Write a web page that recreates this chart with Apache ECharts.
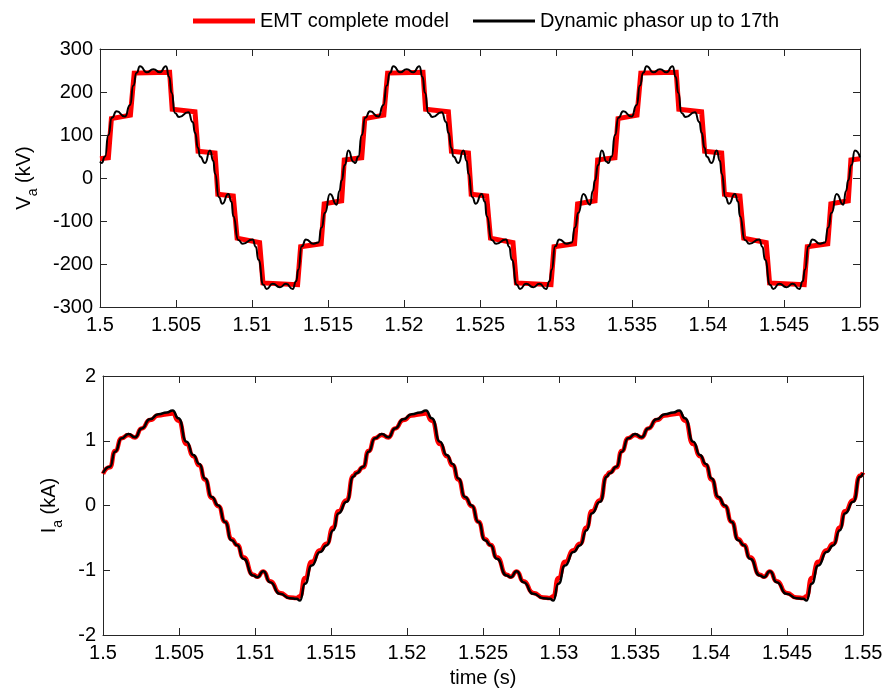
<!DOCTYPE html>
<html><head><meta charset="utf-8">
<script src="https://cdn.jsdelivr.net/npm/echarts@6/dist/echarts.min.js"></script>
<style>html,body{margin:0;padding:0;background:#fff}#c{width:885px;height:690px}</style>
</head><body><div id="c"></div>
<script>
// ---------- DATA ----------
const seriesNames = ['EMT complete model', 'Dynamic phasor up to 17th'];
const xTickLabels = ['1.5','1.505','1.51','1.515','1.52','1.525','1.53','1.535','1.54','1.545','1.55'];

// Top panel: V_a (kV), EMT complete model (stepped)
const vRedT = [
 1.50000,1.50055,1.50075,1.50200,1.50225,1.50458,1.50475,1.50625,1.50645,1.50757,1.50775,1.50877,1.50902,1.51050,1.51072,1.51300,1.51320,1.51455,1.51475,1.51590,1.51607,
 1.51667,1.51722,1.51742,1.51867,1.51892,1.52125,1.52142,1.52292,1.52312,1.52424,1.52442,1.52544,1.52569,1.52717,1.52739,1.52967,1.52987,1.53122,1.53142,1.53257,1.53274,
 1.53333,1.53388,1.53408,1.53533,1.53558,1.53791,1.53808,1.53958,1.53978,1.54090,1.54108,1.54210,1.54235,1.54383,1.54405,1.54633,1.54653,1.54788,1.54808,1.54923,1.54940,
 1.55000];
const vRedV = [
 45,47,138,146,244,246,160,154,62,58,-38,-42,-140,-150,-244,-248,-160,-153,-60,-53,42,
 45,47,138,146,244,246,160,154,62,58,-38,-42,-140,-150,-244,-248,-160,-153,-60,-53,42,
 45,47,138,146,244,246,160,154,62,58,-38,-42,-140,-150,-244,-248,-160,-153,-60,-53,42,
 45];

// Top panel: V_a (kV), dynamic phasor up to 17th
const vBlkT = [
 1.50000,1.50011,1.50033,1.50055,1.50078,1.50109,1.50164,1.50198,1.50219,1.50241,1.50263,1.50307,1.50351,1.50395,1.50434,1.50455,1.50471,1.50493,1.50520,1.50581,
 1.50610,1.50625,1.50645,1.50658,1.50691,1.50724,1.50745,1.50757,1.50782,1.50805,1.50844,1.50865,1.50877,1.50910,1.50939,1.51004,1.51025,1.51042,1.51075,1.51096,
 1.51136,1.51184,1.51224,1.51268,1.51290,1.51305,1.51327,1.51355,1.51404,1.51436,1.51458,1.51480,1.51513,1.51557,1.51575,1.51590,1.51610,1.51634,
 1.51667,1.51678,1.51700,1.51722,1.51745,1.51776,1.51831,1.51865,1.51886,1.51908,1.51930,1.51974,1.52018,1.52062,1.52101,1.52122,1.52138,1.52160,1.52187,1.52248,
 1.52277,1.52292,1.52312,1.52325,1.52358,1.52391,1.52412,1.52424,1.52449,1.52472,1.52511,1.52532,1.52544,1.52577,1.52606,1.52671,1.52692,1.52709,1.52742,1.52763,
 1.52803,1.52851,1.52891,1.52935,1.52957,1.52972,1.52994,1.53022,1.53071,1.53103,1.53125,1.53147,1.53180,1.53224,1.53242,1.53257,1.53277,1.53301,
 1.53333,1.53344,1.53366,1.53388,1.53411,1.53442,1.53497,1.53531,1.53552,1.53574,1.53596,1.53640,1.53684,1.53728,1.53767,1.53788,1.53804,1.53826,1.53853,1.53914,
 1.53943,1.53958,1.53978,1.53991,1.54024,1.54057,1.54078,1.54090,1.54115,1.54138,1.54177,1.54198,1.54210,1.54243,1.54272,1.54337,1.54358,1.54375,1.54408,1.54429,
 1.54469,1.54517,1.54557,1.54601,1.54623,1.54638,1.54660,1.54688,1.54737,1.54769,1.54791,1.54813,1.54846,1.54890,1.54908,1.54923,1.54943,1.54967,
 1.55000];
const vBlkV = [
 38,35,50,100,140,155,143,170,215,245,260,246,253,246,260,235,198,151,142,153,
 130,105,70,50,35,64,40,10,-45,-60,-37,-55,-89,-144,-153,-143,-160,-190,-248,-258,
 -246,-254,-246,-258,-240,-213,-159,-143,-153,-150,-115,-81,-37,-62,-30,-5,30,64,
 38,35,50,100,140,155,143,170,215,245,260,246,253,246,260,235,198,151,142,153,
 130,105,70,50,35,64,40,10,-45,-60,-37,-55,-89,-144,-153,-143,-160,-190,-248,-258,
 -246,-254,-246,-258,-240,-213,-159,-143,-153,-150,-115,-81,-37,-62,-30,-5,30,64,
 38,35,50,100,140,155,143,170,215,245,260,246,253,246,260,235,198,151,142,153,
 130,105,70,50,35,64,40,10,-45,-60,-37,-55,-89,-144,-153,-143,-160,-190,-248,-258,
 -246,-254,-246,-258,-240,-213,-159,-143,-153,-150,-115,-81,-37,-62,-30,-5,30,64,
 48];

// Bottom panel: I_a (kA)
const iT = [
 1.50000,1.50046,1.50079,1.50123,1.50167,1.50211,1.50254,1.50309,1.50364,1.50419,1.50458,1.50496,1.50550,1.50594,1.50634,1.50671,1.50715,1.50759,1.50803,
 1.50846,1.50884,1.50923,1.50989,1.51015,1.51055,1.51099,1.51164,1.51230,1.51274,1.51296,1.51329,1.51373,1.51428,1.51471,1.51515,1.51548,1.51603,1.51647,
 1.51667,1.51713,1.51746,1.51790,1.51834,1.51878,1.51921,1.51976,1.52031,1.52086,1.52125,1.52163,1.52217,1.52261,1.52301,1.52338,1.52382,1.52426,1.52470,
 1.52513,1.52551,1.52590,1.52656,1.52682,1.52722,1.52766,1.52831,1.52897,1.52941,1.52963,1.52996,1.53040,1.53095,1.53138,1.53182,1.53215,1.53270,1.53314,
 1.53333,1.53379,1.53412,1.53456,1.53500,1.53544,1.53587,1.53642,1.53697,1.53752,1.53791,1.53829,1.53883,1.53927,1.53967,1.54004,1.54048,1.54092,1.54136,
 1.54179,1.54217,1.54256,1.54322,1.54348,1.54388,1.54432,1.54497,1.54563,1.54607,1.54629,1.54662,1.54706,1.54761,1.54804,1.54848,1.54881,1.54936,1.54980,
 1.55000];
const iBlkV = [
 0.50,0.60,0.83,1.04,1.105,1.054,1.19,1.333,1.41,1.435,1.467,1.349,0.986,0.78,0.64,0.418,0.133,0.00,-0.254,
 -0.538,-0.615,-0.822,-1.081,-1.107,-1.014,-1.184,-1.364,-1.432,-1.442,-1.468,-1.209,-0.926,-0.719,-0.616,-0.383,-0.124,0.056,0.443,
 0.50,0.60,0.83,1.04,1.105,1.054,1.19,1.333,1.41,1.435,1.467,1.349,0.986,0.78,0.64,0.418,0.133,0.00,-0.254,
 -0.538,-0.615,-0.822,-1.081,-1.107,-1.014,-1.184,-1.364,-1.432,-1.442,-1.468,-1.209,-0.926,-0.719,-0.616,-0.383,-0.124,0.056,0.443,
 0.50,0.60,0.83,1.04,1.105,1.054,1.19,1.333,1.41,1.435,1.467,1.349,0.986,0.78,0.64,0.418,0.133,0.00,-0.254,
 -0.538,-0.615,-0.822,-1.081,-1.107,-1.014,-1.184,-1.364,-1.432,-1.442,-1.468,-1.209,-0.926,-0.719,-0.616,-0.383,-0.124,0.056,0.443,
 0.50];
const iRedV = [
 0.49,0.59,0.84,1.04,1.09,1.05,1.19,1.32,1.39,1.41,1.42,1.31,0.95,0.76,0.62,0.40,0.12,-0.01,-0.25,
 -0.52,-0.61,-0.80,-1.07,-1.10,-1.02,-1.17,-1.35,-1.42,-1.43,-1.40,-1.12,-0.87,-0.69,-0.59,-0.34,-0.09,0.08,0.46,
 0.51,0.59,0.84,1.04,1.09,1.05,1.19,1.32,1.39,1.41,1.42,1.31,0.95,0.76,0.62,0.40,0.12,-0.01,-0.25,
 -0.52,-0.61,-0.80,-1.07,-1.10,-1.02,-1.17,-1.35,-1.42,-1.43,-1.40,-1.12,-0.87,-0.69,-0.59,-0.34,-0.09,0.08,0.46,
 0.51,0.59,0.84,1.04,1.09,1.05,1.19,1.32,1.39,1.41,1.42,1.31,0.95,0.76,0.62,0.40,0.12,-0.01,-0.25,
 -0.52,-0.61,-0.80,-1.07,-1.10,-1.02,-1.17,-1.35,-1.42,-1.43,-1.40,-1.12,-0.87,-0.69,-0.59,-0.34,-0.09,0.08,0.46,
 0.51];

// ---------- CHART ----------
const zip = (a, b) => a.map((t, i) => [t, b[i]]);
const FONT = '"Liberation Sans", Arial, Helvetica, sans-serif';
const AX = '#262626';
const RED = '#ff0000', BLK = '#000000';

function xAxisDef(gi, pos, showLabels, extra) {
  return Object.assign({
    gridIndex: gi, type: 'value', position: pos, min: 1.5, max: 1.55, interval: 0.005,
    axisLine: { onZero: false, lineStyle: { color: AX, width: 1 } },
    axisTick: { show: true, inside: true, length: 7, lineStyle: { color: AX } },
    axisLabel: { show: showLabels, fontSize: 20, fontFamily: FONT, color: '#000', margin: 8,
      formatter: (v) => { const k = Math.round((v - 1.5) / 0.005); return xTickLabels[k] !== undefined ? xTickLabels[k] : ''; } },
    splitLine: { show: false }
  }, extra || {});
}
function yAxisDef(gi, pos, showLabels, min, max, interval, extra) {
  return Object.assign({
    gridIndex: gi, type: 'value', position: pos, min: min, max: max, interval: interval,
    axisLine: { show: true, onZero: false, lineStyle: { color: AX, width: 1 } },
    axisTick: { show: true, inside: true, length: 7, lineStyle: { color: AX } },
    axisLabel: { show: showLabels, fontSize: 20, fontFamily: FONT, color: '#000', margin: 7 },
    splitLine: { show: false }
  }, extra || {});
}

const chart = echarts.init(document.getElementById('c'), null, { renderer: 'canvas' });
chart.setOption({
  animation: false,
  backgroundColor: '#fff',
  textStyle: { fontFamily: FONT },
  legend: [
    { left: 188, top: 6, itemWidth: 62, itemHeight: 5, itemGap: 10,
      data: [{ name: seriesNames[0], icon: 'rect' }],
      textStyle: { fontSize: 20, color: '#000', fontFamily: FONT } },
    { left: 468, top: 6, itemWidth: 62, itemHeight: 3, itemGap: 10,
      data: [{ name: seriesNames[1], icon: 'rect' }],
      textStyle: { fontSize: 20, color: '#000', fontFamily: FONT } }
  ],
  grid: [
    { left: 100, right: 25, top: 49, height: 258, outerBoundsMode: 'none', containLabel: false },
    { left: 103, right: 22, top: 376, height: 259, outerBoundsMode: 'none', containLabel: false }
  ],
  xAxis: [
    xAxisDef(0, 'bottom', true),
    xAxisDef(0, 'top', false),
    xAxisDef(1, 'bottom', true, { name: 'time (s)', nameLocation: 'middle', nameGap: 33,
      nameTextStyle: { fontSize: 20, color: '#000', fontFamily: FONT, verticalAlign: 'top' } }),
    xAxisDef(1, 'top', false)
  ],
  yAxis: [
    yAxisDef(0, 'left', true, -300, 300, 100, {
      name: '{n|V}{s|a}{n| (kV)}', nameLocation: 'middle', nameGap: 60,
      nameTextStyle: { color: '#000', rich: {
        n: { fontSize: 20, fontFamily: FONT, color: '#000' },
        s: { fontSize: 14, fontFamily: FONT, color: '#000', padding: [18, 0, 0, 0] } } } }),
    yAxisDef(0, 'right', false, -300, 300, 100),
    yAxisDef(1, 'left', true, -2, 2, 1, {
      name: '{n|I}{s|a}{n| (kA)}', nameLocation: 'middle', nameGap: 38,
      nameTextStyle: { color: '#000', rich: {
        n: { fontSize: 20, fontFamily: FONT, color: '#000' },
        s: { fontSize: 14, fontFamily: FONT, color: '#000', padding: [18, 0, 0, 0] } } } }),
    yAxisDef(1, 'right', false, -2, 2, 1)
  ],
  series: [
    { name: seriesNames[0], type: 'line', xAxisIndex: 0, yAxisIndex: 0, data: zip(vRedT, vRedV),
      showSymbol: false, symbol: 'none', itemStyle: { color: RED },
      lineStyle: { color: RED, width: 5, join: 'miter' }, z: 2 },
    { name: seriesNames[1], type: 'line', xAxisIndex: 0, yAxisIndex: 0, data: zip(vBlkT, vBlkV),
      showSymbol: false, symbol: 'none', smooth: 0.6, smoothMonotone: 'x', itemStyle: { color: BLK },
      lineStyle: { color: BLK, width: 2 }, z: 3 },
    { name: seriesNames[0], type: 'line', xAxisIndex: 2, yAxisIndex: 2, data: zip(iT, iRedV),
      showSymbol: false, symbol: 'none', smooth: 0.6, smoothMonotone: 'x', itemStyle: { color: RED },
      lineStyle: { color: RED, width: 4.5 }, z: 2 },
    { name: seriesNames[1], type: 'line', xAxisIndex: 2, yAxisIndex: 2, data: zip(iT, iBlkV),
      showSymbol: false, symbol: 'none', smooth: 0.6, smoothMonotone: 'x', itemStyle: { color: BLK },
      lineStyle: { color: BLK, width: 2.5 }, z: 3 }
  ]
});
</script>
</body></html>
